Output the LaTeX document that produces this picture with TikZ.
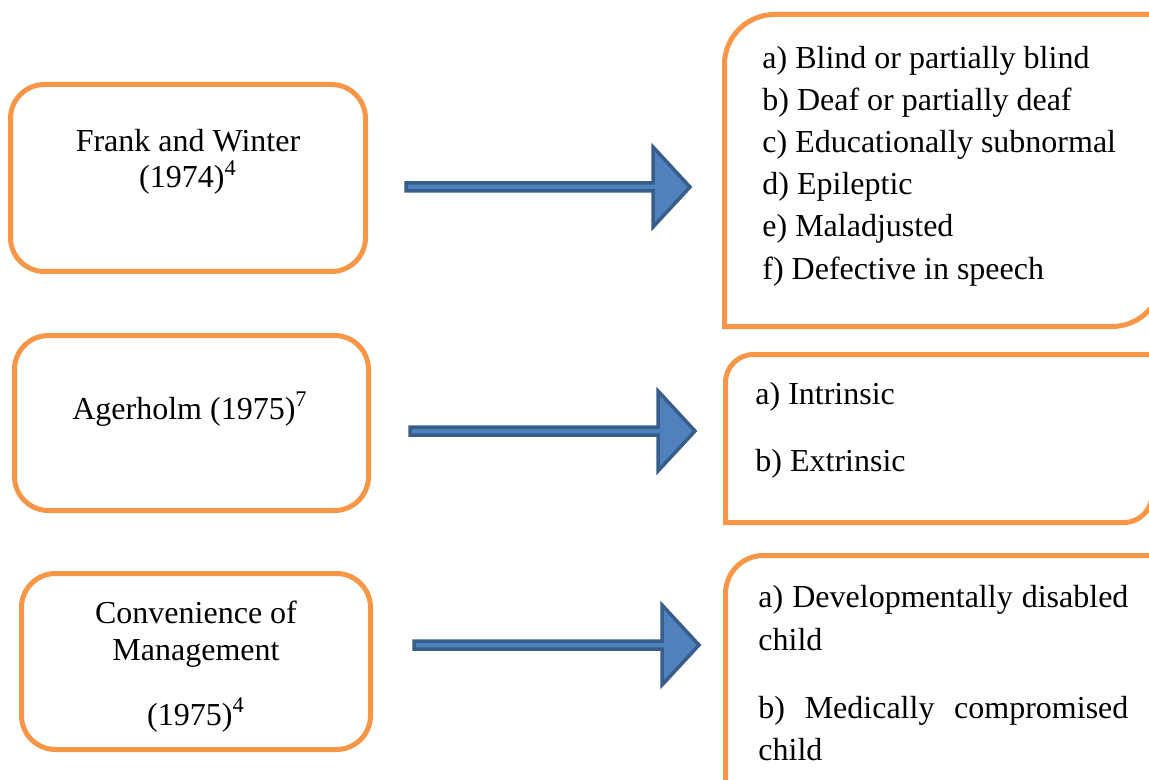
\documentclass[tikz,border=0pt]{standalone}
\usepackage{fontspec}
\setmainfont{Liberation Serif}
\usetikzlibrary{calc}

\definecolor{boxorange}{HTML}{F79646}
\definecolor{arrowfill}{HTML}{4F81BD}
\definecolor{arrowedge}{HTML}{385D8A}

\tikzset{
    srcbox/.style={draw=boxorange, line width=2.5pt, rounded corners=17pt, inner sep=0pt, outer sep=0pt},
    catbox/.style={draw=boxorange, line width=2.5pt},
    txt/.style={font=\fontsize{16}{21}\selectfont, inner sep=0pt, anchor=base},
    item/.style={txt, anchor=base west},
    blockarrow/.style={fill=arrowfill, draw=arrowedge, line width=1.75pt, line join=miter}
}

\begin{document}
\begin{tikzpicture}[x=0.5pt, y=-0.5pt]
    
    % page 1149 x 780, y pointing down
    \clip (0,0) rectangle (1149,780);
    
    % left boxes
    \node[srcbox, minimum width=177.5pt, minimum height=93.5pt] (fw) at (188,178) {};
    \node[srcbox, minimum width=177pt, minimum height=87.5pt] (ag) at (191.5,423) {};
    \node[srcbox, minimum width=174.5pt, minimum height=88pt] (cm) at (196,661.5) {};
    
    \node[txt] (fw1) at (188,152) {Frank and Winter};
    \node[txt] (fw2) at (188,188) {(1974)\textsuperscript{4}};
    \node[txt] (ag1) at (190,419) {Agerholm (1975)\textsuperscript{7}};
    \node[txt] (cm1) at (196,623) {Convenience of};
    \node[txt] (cm2) at (196,660) {Management};
    \node[txt] (cm3) at (196,725) {(1975)\textsuperscript{4}};
    
    % right boxes: round top-left and bottom-right corners
    \foreach \xl/\yt/\xr/\yb/\rad in {724.5/14.5/1162/326.5/50, 725.5/354.5/1152/522.5/28, 725.5/555.5/1162/795/38} {
        \draw[catbox] (\xl,\yb) -- (\xl,\yt+\rad)
            arc[start angle=180, end angle=270, radius=\rad] -- (\xr,\yt)
            -- (\xr,\yb-\rad)
            arc[start angle=0, end angle=90, radius=\rad] -- cycle;
    }
    
    \foreach \txt [count=\i from 0] in {a) Blind or partially blind, b) Deaf or partially deaf, c) Educationally subnormal, d) Epileptic, e) Maladjusted, f) Defective in speech} {
        \node[item] (fwc\i) at (762,69+42*\i) {\txt};
    }
    
    \node[item] (agc1) at (755,404) {a) Intrinsic};
    \node[item] (agc2) at (755,471) {b) Extrinsic};
    
    \node[item] (cmc1) at (758,607) {\makebox[185pt][s]{a) Developmentally disabled}};
    \node[item] (cmc2) at (758,650) {child};
    \node[item] (cmc3) at (758,718) {\makebox[185pt][s]{b) Medically compromised}};
    \node[item] (cmc4) at (758,760) {child};
    
    % block arrows
    \coordinate (s1) at (406,187);
    \coordinate (e1) at (690,187);
    \coordinate (s2) at (410,431);
    \coordinate (e2) at (695,431);
    \coordinate (s3) at (414,645);
    \coordinate (e3) at (699,645);
    
    \foreach \i in {1,2,3} {
        \draw[blockarrow] ($(s\i)+(0,-4)$) -- ($(e\i)+(-37,-4)$) -- ($(e\i)+(-37,-40)$)
            -- (e\i) -- ($(e\i)+(-37,40)$) -- ($(e\i)+(-37,4)$) -- ($(s\i)+(0,4)$) -- cycle;
    }
    
\end{tikzpicture}
\end{document}
